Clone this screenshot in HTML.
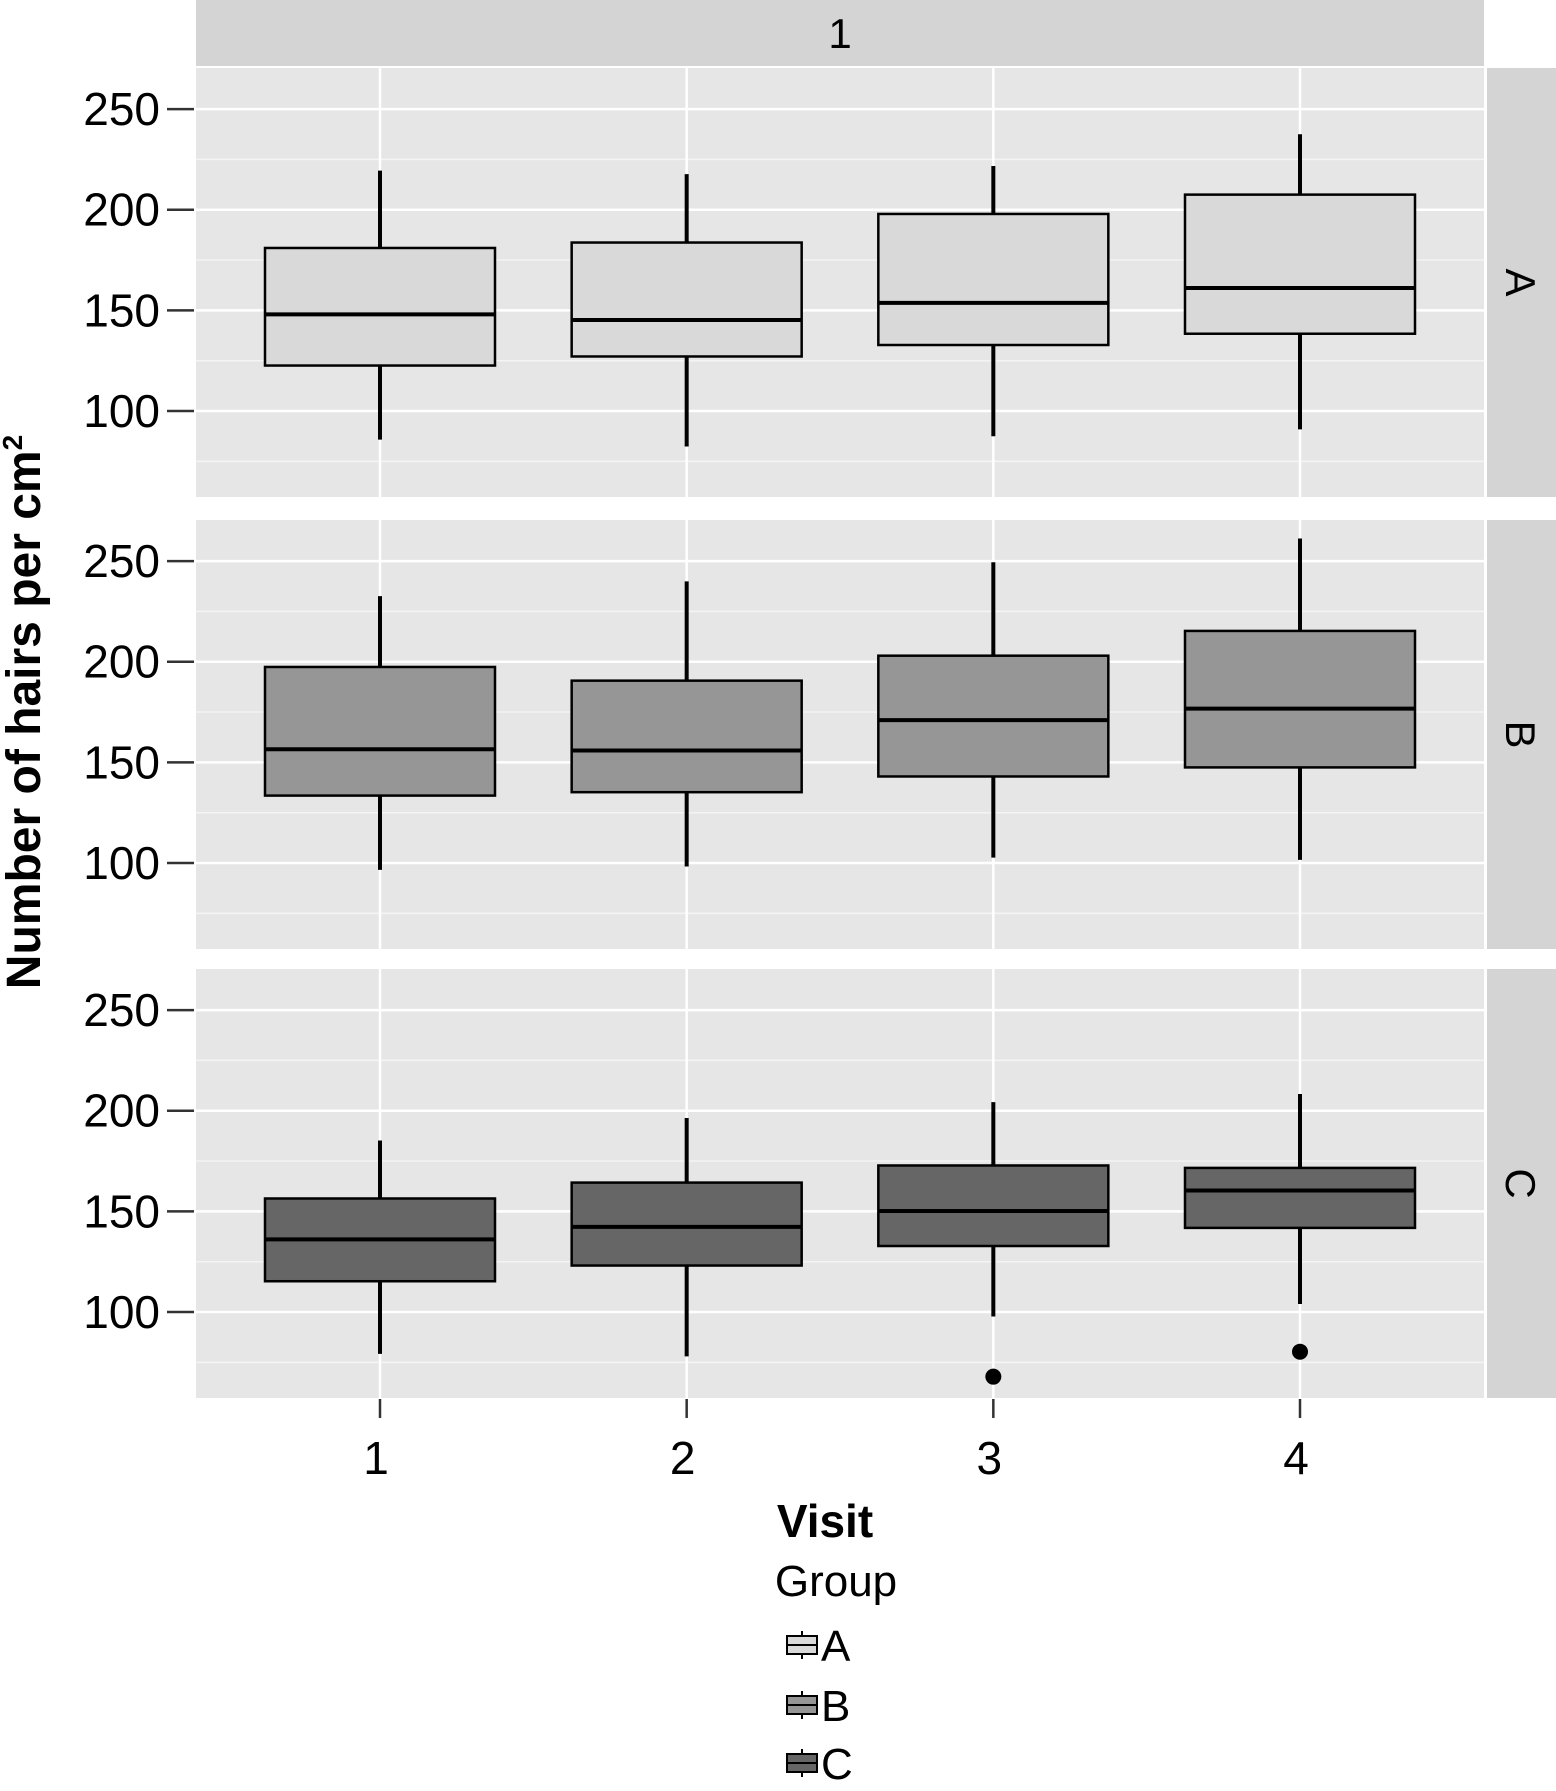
<!DOCTYPE html>
<html><head><meta charset="utf-8"><style>
body{margin:0;background:#fff;}
svg text{font-family:"Liberation Sans",sans-serif;fill:#000;}
</style></head><body>
<svg id="chart" width="1556" height="1786" viewBox="0 0 1556 1786" xmlns="http://www.w3.org/2000/svg"></svg>
<script>
const groups=["A","B","C"];
const visits=[1,2,3,4];
const fills=["#d9d9d9","#969696","#666666"];
const lowA=[85.8,82.4,87.5,90.9], q1A=[122.6,127.1,132.8,138.4], medA=[148,145.2,153.7,161.1], q3A=[181,183.7,197.9,207.5], highA=[219.4,217.7,221.7,237.5];
const lowB=[96.6,98.3,102.7,101.6], q1B=[133.5,135.2,143,147.5], medB=[156.5,155.9,171,176.7], q3B=[197.4,190.6,203,215.3], highB=[232.6,239.9,249.4,261.2];
const lowC=[79.2,78,97.8,104], q1C=[115.3,123.1,132.8,141.8], medC=[136.1,142.3,150.2,160.4], q3C=[156.4,164.3,172.8,171.6], highC=[185.2,196.4,204.3,208.3];
const outlierVisit=[3,4];
const outlierValue=[67.9,80.3];
const yTicks=[100,150,200,250];
const minorTicks=[75,125,175,225];
const lows=[lowA,lowB,lowC],q1s=[q1A,q1B,q1C],meds=[medA,medB,medC],q3s=[q3A,q3B,q3C],highs=[highA,highB,highC];

const NS="http://www.w3.org/2000/svg";
const svg=document.getElementById('chart');
function mk(tag,attrs,parent){const e=document.createElementNS(NS,tag);for(const k in attrs)e.setAttribute(k,attrs[k]);(parent||svg).appendChild(e);return e;}
const L=196,R=1484;
const panelTops=[68,520,969],PH=429;
const yMin=57.3,yMax=270.4;
function xS(v){return L+(v-0.4)/4.2*(R-L);}
function yS(p,v){return panelTops[p]+(yMax-v)/(yMax-yMin)*PH;}
const bw=(R-L)/4.2*0.75;

let e=mk('rect',{x:L,y:0,width:R-L,height:66,fill:'#d4d4d4'});


e=mk('text',{x:(L+R)/2,y:48,'text-anchor':'middle','font-size':42});e.textContent='1';



for(let p=0;p<3;p++){
  const g=mk('g',{});
  
  
  mk('rect',{x:L,y:panelTops[p],width:R-L,height:PH,fill:'#e6e6e6'},g);
  minorTicks.forEach(t=>mk('line',{x1:L,x2:R,y1:yS(p,t),y2:yS(p,t),stroke:'#f4f4f4','stroke-width':1.5},g));
  yTicks.forEach(t=>{
    mk('line',{x1:L,x2:R,y1:yS(p,t),y2:yS(p,t),stroke:'#fff','stroke-width':2.5},g);
    mk('line',{x1:167,x2:194,y1:yS(p,t),y2:yS(p,t),stroke:'#333','stroke-width':2.5},g);
    const tx=mk('text',{x:160,y:yS(p,t)+16,'text-anchor':'end','font-size':46},g);tx.textContent=t;
    
    
  });
  visits.forEach(v=>mk('line',{x1:xS(v),x2:xS(v),y1:panelTops[p],y2:panelTops[p]+PH,stroke:'#fff','stroke-width':2.5},g));
  const sr=mk('rect',{x:1487,y:panelTops[p],width:69,height:PH,fill:'#d4d4d4'},g);
  
  
  const cy=panelTops[p]+PH/2;
  const st=mk('text',{x:1506,y:cy,'text-anchor':'middle','font-size':42,transform:`rotate(90 1506 ${cy})`},g);st.textContent=groups[p];
  
  
  for(let i=0;i<4;i++){
    const x=xS(visits[i]);
    const b=mk('g',{},g);
    
    
    mk('line',{x1:x,x2:x,y1:yS(p,highs[p][i]),y2:yS(p,q3s[p][i]),stroke:'#000','stroke-width':4},b);
    mk('line',{x1:x,x2:x,y1:yS(p,q1s[p][i]),y2:yS(p,lows[p][i]),stroke:'#000','stroke-width':4},b);
    mk('rect',{x:x-bw/2,y:yS(p,q3s[p][i]),width:bw,height:yS(p,q1s[p][i])-yS(p,q3s[p][i]),fill:fills[p],stroke:'#000','stroke-width':2.5},b);
    mk('line',{x1:x-bw/2,x2:x+bw/2,y1:yS(p,meds[p][i]),y2:yS(p,meds[p][i]),stroke:'#000','stroke-width':4},b);
  }
}
for(let i=0;i<outlierVisit.length;i++){
  const c=mk('circle',{cx:xS(outlierVisit[i]),cy:yS(2,outlierValue[i]),r:8,fill:'#000'});
  
  
}
visits.forEach(v=>{
  mk('line',{x1:xS(v),x2:xS(v),y1:1399,y2:1418,stroke:'#333','stroke-width':2.5});
  const t=mk('text',{x:xS(v)-4,y:1474,'text-anchor':'middle','font-size':46});t.textContent=v;
  
  
});
e=mk('text',{x:825,y:1537,'text-anchor':'middle','font-size':46,'font-weight':'bold'});e.textContent='Visit';


e=mk('text',{x:0,y:0,'text-anchor':'middle','font-size':48,'font-weight':'bold',transform:'translate(40 712) rotate(-90)'});
e.innerHTML='Number of hairs per cm<tspan font-size="28" dy="-18">2</tspan>';


e=mk('text',{x:836,y:1596,'text-anchor':'middle','font-size':44});e.textContent='Group';


const legY=[1645,1705,1763];
for(let p=0;p<3;p++){
  const g=mk('g',{});
  
  
  mk('line',{x1:802,x2:802,y1:legY[p]-14,y2:legY[p]+14,stroke:'#000','stroke-width':2},g);
  mk('rect',{x:787,y:legY[p]-9,width:30,height:18,fill:fills[p],stroke:'#000','stroke-width':2},g);
  mk('line',{x1:787,x2:817,y1:legY[p],y2:legY[p],stroke:'#000','stroke-width':2},g);
  const t=mk('text',{x:821,y:legY[p]+16,'font-size':44},g);t.textContent=groups[p];
}
</script>
</body></html>
